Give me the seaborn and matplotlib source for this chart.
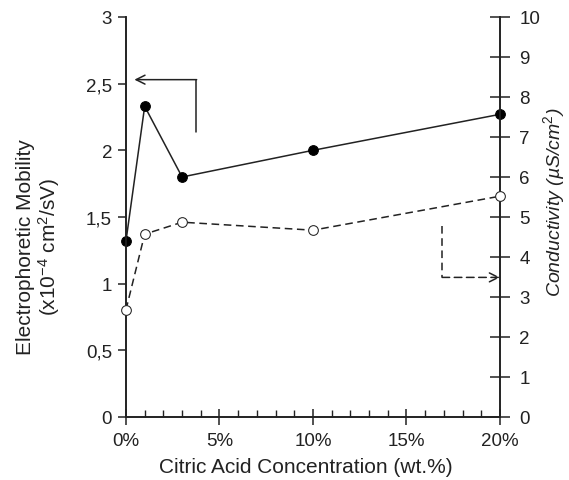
import matplotlib
matplotlib.use("Agg")
import matplotlib.pyplot as plt
import seaborn as sns
import pandas as pd
from matplotlib.ticker import MultipleLocator

# Data
concentration = [0, 1, 3, 10, 20]          # wt.% citric acid
mobility = [1.32, 2.33, 1.80, 2.00, 2.27]  # x10^-4 cm2/sV (left axis)
conductivity = [2.68, 4.57, 4.87, 4.67, 5.52]  # uS/cm2 (right axis)

left_ticks = [0, 0.5, 1, 1.5, 2, 2.5, 3]
left_labels = ["0", "0,5", "1", "1,5", "2", "2,5", "3"]
x_ticks = [0, 5, 10, 15, 20]
x_labels = ["0%", "5%", "10%", "15%", "20%"]

sns.set_style("white")
plt.rcParams["font.family"] = ["Liberation Sans", "DejaVu Sans"]
plt.rcParams["mathtext.fontset"] = "custom"
plt.rcParams["mathtext.rm"] = "Liberation Sans"
plt.rcParams["mathtext.it"] = "Liberation Sans:italic"

ink = "#222222"
df = pd.DataFrame({"conc": concentration, "mob": mobility, "cond": conductivity})

fig = plt.figure(figsize=(5.69, 4.81), dpi=100)
ax = fig.add_axes([0.2214, 0.131, 0.6573, 0.8316])
ax2 = ax.twinx()

sns.lineplot(data=df, x="conc", y="mob", ax=ax, color=ink, linewidth=1.1,
             marker="o", markersize=7, markerfacecolor="black",
             markeredgecolor="black", clip_on=False, zorder=5)
sns.lineplot(data=df, x="conc", y="cond", ax=ax2, color=ink, linewidth=1.1,
             linestyle=(0, (5, 3)), marker="o", markersize=7,
             markerfacecolor="white", markeredgecolor=ink,
             clip_on=False, zorder=5)

ax.set_xlim(0, 20)
ax.set_ylim(0, 3)
ax2.set_ylim(0, 10)

ax.set_yticks(left_ticks)
ax.set_yticklabels(left_labels)
ax.set_xticks(x_ticks)
ax.set_xticklabels(x_labels)
ax.xaxis.set_minor_locator(MultipleLocator(1))
ax2.set_yticks(range(0, 11))

for a in (ax, ax2):
    a.spines["top"].set_visible(False)
    for s in ("left", "right", "bottom"):
        a.spines[s].set_color(ink)
        a.spines[s].set_linewidth(1.2)

ax.tick_params(axis="y", left=True, direction="out", length=6, width=1.1,
               labelsize=13.5, colors=ink, pad=4)
ax.tick_params(axis="x", which="major", bottom=True, direction="inout",
               length=12, width=1.1, labelsize=13.5, colors=ink, pad=5)
ax.tick_params(axis="x", which="minor", bottom=True, direction="in",
               length=5, width=1.0, colors=ink)
ax2.tick_params(axis="y", right=True, direction="inout", length=14, width=1.1,
                labelsize=13.5, colors=ink, pad=7)

ax.set_xlabel("Citric Acid Concentration (wt.%)", fontsize=15, color=ink)
ax.xaxis.set_label_coords(0.48, -0.1)
ax.set_ylabel("Electrophoretic Mobility\n(x10$^{-4}$ cm$^2$/sV)", fontsize=15,
              color=ink, linespacing=1.05)
ax.yaxis.set_label_coords(-0.171, 0.4275)
ax2.set_ylabel("Conductivity (µS/cm$^2$)", fontsize=14, color=ink,
               style="italic")
ax2.yaxis.set_label_coords(1.11, 0.54)

# indicator arrows
ax.plot([3.73, 3.73], [2.135, 2.53], color=ink, linewidth=1.1)
ax.annotate("", xy=(0.45, 2.53), xytext=(3.78, 2.53),
            arrowprops=dict(arrowstyle="->", color=ink, lw=1.1,
                            mutation_scale=16, shrinkA=0, shrinkB=0))
ax2.plot([16.9, 16.9], [4.78, 3.49], color=ink, linewidth=1.1,
         linestyle=(0, (5, 3)))
ax2.annotate("", xy=(20.0, 3.49), xytext=(16.9, 3.49),
             arrowprops=dict(arrowstyle="->", color=ink, lw=1.1,
                             linestyle=(0, (5, 3)), mutation_scale=16,
                             shrinkA=0, shrinkB=0))

fig.savefig("out.png", dpi=100)
